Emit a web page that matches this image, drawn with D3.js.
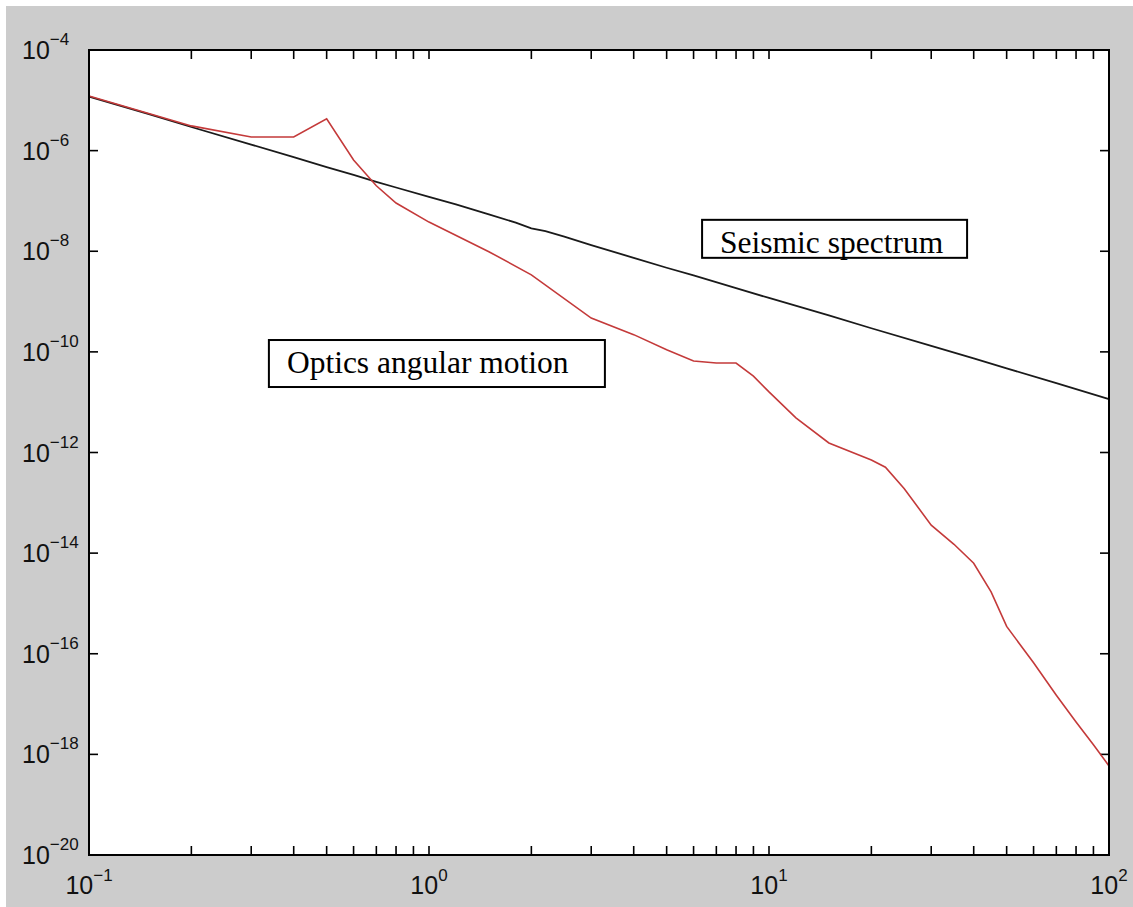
<!DOCTYPE html>
<html><head><meta charset="utf-8">
<script src="https://cdn.jsdelivr.net/npm/d3@7/dist/d3.min.js"></script>
<style>body{margin:0;background:#fff}svg{display:block}</style>
</head><body>
<svg id="chart" width="1133" height="907"></svg>
<script>
// ---- data ----
const seismicFreq = [0.1, 0.15, 0.2, 0.3, 0.4, 0.5, 0.6, 0.7, 0.8, 1, 1.2, 1.5, 1.8, 2, 2.2, 2.5, 3, 4, 5, 6, 8, 10, 15, 20, 30, 40, 50, 70, 100];
const seismicValues = [1.18e-5, 5.3e-6, 2.95e-6, 1.32e-6, 7.4e-7, 4.7e-7, 3.3e-7, 2.4e-7, 1.85e-7, 1.2e-7, 8.5e-8, 5.4e-8, 3.7e-8, 2.85e-8, 2.5e-8, 1.95e-8, 1.32e-8, 7.4e-9, 4.7e-9, 3.3e-9, 1.85e-9, 1.18e-9, 5.3e-10, 2.95e-10, 1.32e-10, 7.4e-11, 4.7e-11, 2.4e-11, 1.15e-11];
const opticsFreq = [0.1, 0.2, 0.3, 0.4, 0.5, 0.6, 0.7, 0.8, 1, 1.5, 2, 3, 4, 5, 6, 7, 8, 9, 10, 12, 15, 20, 22, 25, 30, 35, 40, 45, 50, 60, 70, 80, 90, 100];
const opticsValues = [1.22e-5, 3.1e-6, 1.86e-6, 1.86e-6, 4.3e-6, 6.5e-7, 2.0e-7, 9.1e-8, 3.8e-8, 9.8e-9, 3.4e-9, 4.7e-10, 2.2e-10, 1.1e-10, 6.6e-11, 6.0e-11, 6.0e-11, 3.3e-11, 1.6e-11, 4.9e-12, 1.55e-12, 7.1e-13, 5.1e-13, 1.9e-13, 3.6e-14, 1.5e-14, 6.3e-15, 1.7e-15, 3.5e-16, 6.6e-17, 1.5e-17, 4.4e-18, 1.55e-18, 5.9e-19];
const xTickExponents = [-1, 0, 1, 2];
const yTickExponents = [-4, -6, -8, -10, -12, -14, -16, -18, -20];
const labelTexts = ["Seismic spectrum", "Optics angular motion"];
const labelAnchorFreq = [7.18, 0.382];
const labelAnchorValue = [9.3e-9, 3.8e-11];

// ---- layout ----
const svg = d3.select("#chart");
const W = 1133, H = 907;
const L = 89, R = 1109, T = 50, B = 855;

svg.append("rect").attr("x", 0).attr("y", 0).attr("width", W).attr("height", H).attr("fill", "#ffffff");
svg.append("rect").attr("x", 6).attr("y", 6).attr("width", W - 6).attr("height", H - 6).attr("fill", "#cccccc");

const x = d3.scaleLog().domain([0.1, 100]).range([L, R]);
const y = d3.scaleLog().domain([1e-20, 1e-4]).range([B, T]);

svg.append("rect").attr("x", L).attr("y", T).attr("width", R - L).attr("height", B - T).attr("fill", "#ffffff");

// ticks
const minorX = [];
for (let e = -1; e < 2; e++) for (let m = 1; m < 10; m++) minorX.push(m * Math.pow(10, e));
minorX.push(100);
const tickLen = 9;
const g = svg.append("g").attr("stroke", "#000").attr("stroke-width", 1.6);
minorX.forEach(v => {
  const px = x(v);
  g.append("line").attr("x1", px).attr("x2", px).attr("y1", B).attr("y2", B - tickLen);
  g.append("line").attr("x1", px).attr("x2", px).attr("y1", T).attr("y2", T + tickLen);
});
yTickExponents.forEach(e => {
  const py = y(Math.pow(10, e));
  g.append("line").attr("x1", L).attr("x2", L + tickLen).attr("y1", py).attr("y2", py);
  g.append("line").attr("x1", R).attr("x2", R - tickLen).attr("y1", py).attr("y2", py);
});

// lines
const line = d3.line().x(d => x(d[0])).y(d => y(d[1]));
svg.append("path").datum(seismicFreq.map((f, i) => [f, seismicValues[i]]))
  .attr("d", line).attr("fill", "none").attr("stroke", "#1a1a1a").attr("stroke-width", 1.8);
svg.append("path").datum(opticsFreq.map((f, i) => [f, opticsValues[i]]))
  .attr("d", line).attr("fill", "none").attr("stroke", "#c43a3a").attr("stroke-width", 1.6);

// frame
svg.append("rect").attr("x", L).attr("y", T).attr("width", R - L).attr("height", B - T)
  .attr("fill", "none").attr("stroke", "#000").attr("stroke-width", 2);

// tick labels
const font = "'Liberation Sans', Arial, Helvetica, sans-serif";
yTickExponents.forEach(e => {
  const py = y(Math.pow(10, e));
  const t = svg.append("text").attr("x", 22).attr("y", py + 9)
    .attr("font-family", font).attr("font-size", 25).attr("fill", "#111");
  t.append("tspan").text("10");
  t.append("tspan").attr("dy", -14).attr("font-size", 17).text("\u2212" + Math.abs(e));
});
xTickExponents.forEach(e => {
  const px = x(Math.pow(10, e));
  const t = svg.append("text").attr("x", px).attr("y", 894).attr("text-anchor", "middle")
    .attr("font-family", font).attr("font-size", 25).attr("fill", "#111");
  t.append("tspan").text("10");
  t.append("tspan").attr("dy", -13).attr("font-size", 17).text(e < 0 ? "\u2212" + Math.abs(e) : String(e));
});

// annotation boxes
const boxDims = [[265, 38], [336, 47]];
labelTexts.forEach((txt, i) => {
  const ax = x(labelAnchorFreq[i]), ay = y(labelAnchorValue[i]);
  svg.append("rect").attr("x", ax - 18).attr("y", ay - 33)
    .attr("width", boxDims[i][0]).attr("height", boxDims[i][1])
    .attr("fill", "#fff").attr("stroke", "#000").attr("stroke-width", 2);
  svg.append("text").attr("x", ax).attr("y", ay)
    .attr("font-family", "'Liberation Serif', 'Times New Roman', serif").attr("font-size", 31.5)
    .attr("fill", "#000").text(txt);
});
</script>
</body></html>
